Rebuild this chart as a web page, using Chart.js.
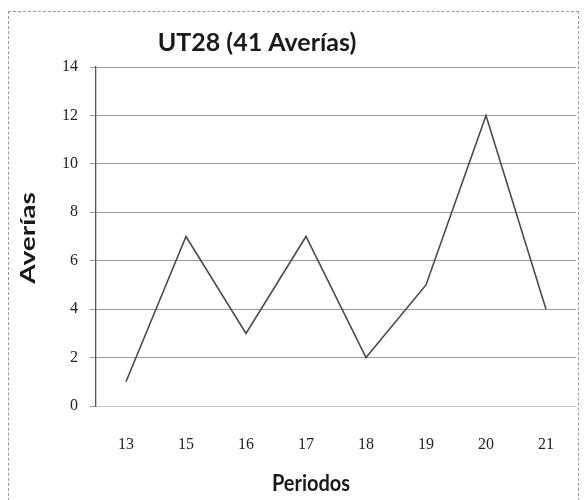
<!DOCTYPE html>
<html>
<head>
<meta charset="utf-8">
<script src="https://cdn.jsdelivr.net/npm/chart.js@4"></script>
<style>
  html, body { margin: 0; padding: 0; background: #fff; overflow: hidden; }
  #wrap { position: relative; width: 586px; height: 500px; }
  #frame { position: absolute; left: 8px; top: 11px; width: 571px; height: 520px; border: 1px dashed #999; box-sizing: border-box; }
  canvas { position: absolute; left: 0; top: 0; }
</style>
</head>
<body>
<div id="wrap">
  <div id="frame"></div>
  <canvas id="c" width="586" height="500"></canvas>
</div>
<script>
const chartTitle = 'UT28 (41 Averías)';
const xTitle = 'Periodos';
const yTitle = 'Averías';
const periods = ['13', '15', '16', '17', '18', '19', '20', '21'];
const averias = [1, 7, 3, 7, 2, 5, 12, 4];
const yTicks = [0, 2, 4, 6, 8, 10, 12, 14];

const titlesPlugin = {
  id: 'titles',
  afterDraw(chart) {
    const ctx = chart.ctx;
    ctx.save();
    ctx.fillStyle = '#1a1a1a';
    ctx.textAlign = 'center';
    ctx.textBaseline = 'middle';
    ctx.font = 'bold 25px Lato, "Open Sans", sans-serif';
    ctx.fillText(chartTitle, 257, 43);
    ctx.save();
    ctx.translate(311, 484);
    ctx.scale(1, 1.1);
    ctx.font = 'bold 20px Lato, "Open Sans", sans-serif';
    ctx.fillText(xTitle, 0, 0);
    ctx.restore();
    ctx.save();
    ctx.translate(29, 238);
    ctx.rotate(-Math.PI / 2);
    ctx.scale(1.4, 1);
    ctx.font = 'bold 20px Lato, "Open Sans", sans-serif';
    ctx.fillText(yTitle, 0, 0);
    ctx.restore();
    ctx.restore();
  }
};

new Chart(document.getElementById('c'), {
  type: 'line',
  data: {
    labels: periods,
    datasets: [{
      data: averias,
      borderColor: '#4a4a4a',
      borderWidth: 1.6,
      pointRadius: 0,
      tension: 0,
      fill: false
    }]
  },
  options: {
    responsive: false,
    animation: false,
    layout: { padding: { top: 67, right: 10, left: 0, bottom: 0 } },
    plugins: { legend: { display: false }, tooltip: { enabled: false }, title: { display: false } },
    scales: {
      x: {
        offset: true,
        grid: { display: false, drawTicks: false },
        border: { display: true, color: '#c4c4c4', width: 1 },
        ticks: { padding: 29, color: '#222', font: { family: '"Liberation Serif", serif', size: 16 }, maxRotation: 0 },
        afterFit(s) { s.height = 94; }
      },
      y: {
        min: 0, max: 14,
        afterBuildTicks(s) { s.ticks = yTicks.map(v => ({ value: v })); },
        grid: { color: '#9a9a9a', lineWidth: 1, tickLength: 6, drawTicks: true },
        border: { display: true, color: '#555', width: 1.3 },
        ticks: { padding: 12, color: '#222', font: { family: '"Liberation Serif", serif', size: 16 } },
        afterFit(s) { s.width = 96; }
      }
    }
  },
  plugins: [titlesPlugin]
});
</script>
</body>
</html>
